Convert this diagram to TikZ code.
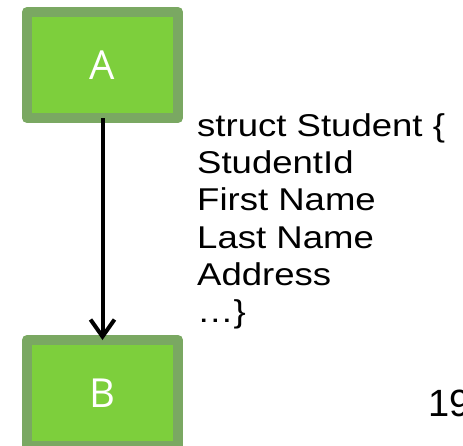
\documentclass[tikz,border=0pt]{standalone}
\usepackage{fontspec}
\setmainfont{Liberation Sans}
\newfontfamily\bodyfont[FakeStretch=1.16]{Liberation Sans}
\newfontfamily\boxfont{Open Sans}
\usetikzlibrary{arrows.meta}
\definecolor{boxborder}{RGB}{122,168,98}
\definecolor{boxfill}{RGB}{125,207,60}
\begin{document}
\begin{tikzpicture}[x=1pt,y=1pt,
  greenbox/.style={draw=boxborder, fill=boxfill, line width=10pt, line join=round,
    minimum width=151pt, minimum height=106pt, inner sep=0pt, outer sep=0pt,
    text=white, font=\boxfont\fontsize{40}{48}\selectfont},
  codeline/.style={anchor=base west, inner sep=0pt, font=\bodyfont\fontsize{31.5}{37}\selectfont},
  link/.style={line width=4pt, -{Straight Barb[length=17pt,width=24pt,line width=4pt]}}]
\clip (0,0) rectangle (463,-445);
\node[greenbox] (A) at (102.5,-65) {A};
\node[greenbox] (B) at (102.5,-393) {B};
\draw[link] (A.south) -- (B.north);
\node[codeline] (l1) at (197,-136.7) {struct Student \{};
\node[codeline] (l2) at (197,-173.8) {StudentId};
\node[codeline] (l3) at (197,-210.9) {First Name};
\node[codeline] (l4) at (197,-248.0) {Last Name};
\node[codeline] (l5) at (197,-285.1) {Address};
\node[codeline] (l6) at (197,-322.2) {…\}};
\node[anchor=base west, inner sep=0pt, font=\fontsize{38}{46}\selectfont] (pg) at (428.6,-416.7) {19};
\end{tikzpicture}
\end{document}
